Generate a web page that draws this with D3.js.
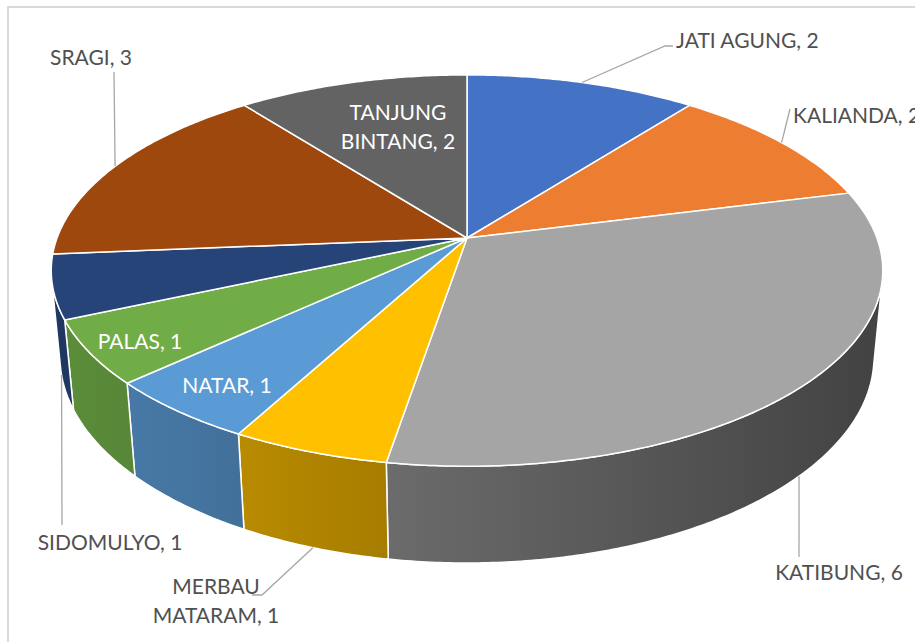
<!DOCTYPE html>
<html>
<head>
<meta charset="utf-8">
<script src="https://cdn.jsdelivr.net/npm/d3@7"></script>
<style>
  body { margin: 0; background: #fff; }
  svg { display: block; }
  text { font-family: Lato, "Noto Sans", sans-serif; font-size: 21px; }
</style>
</head>
<body>
<div id="chart"></div>
<script>
// data
var categories = ["JATI AGUNG", "KALIANDA", "KATIBUNG", "MERBAU MATARAM", "NATAR",
                  "PALAS", "SIDOMULYO", "SRAGI", "TANJUNG BINTANG"];
var values = [2, 2, 6, 1, 1, 1, 1, 3, 2];
var colors = ["#4472c4", "#ed7d31", "#a5a5a5", "#ffc000", "#5b9bd5",
              "#70ad47", "#264478", "#9e480e", "#636363"];

// label placement (layout only)
var labelLayout = [
  { x: 676, y: 48,  anchor: "start",  wrap: false, inside: false, leader: [[665, 46], [673, 46]] },
  { x: 793, y: 123, anchor: "start",  wrap: false, inside: false, leader: [[790, 109]] },
  { x: 839, y: 580, anchor: "middle", wrap: false, inside: false, leader: [[799, 557]] },
  { x: 216, y: 594, anchor: "middle", wrap: true,  inside: false, leader: [[262, 595], [252, 595]] },
  { x: 227, y: 393, anchor: "middle", wrap: false, inside: true },
  { x: 140, y: 349, anchor: "middle", wrap: false, inside: true },
  { x: 110, y: 550, anchor: "middle", wrap: false, inside: false, leader: [[62, 525]] },
  { x: 91,  y: 65,  anchor: "middle", wrap: false, inside: false, leader: [[114, 72]] },
  { x: 398, y: 120, anchor: "middle", wrap: true,  inside: true }
];

var width = 915, height = 642;

// simple perspective camera for the 3d pie
var cam = { cx: 467, cy: 238, f: 2183, D: 5.325, phi: 27.65 * Math.PI / 180, depth: 0.241 };
var sn = Math.sin(cam.phi), cs = Math.cos(cam.phi);

function project(a, r, h) {
  var x = r * Math.sin(a), z = -r * Math.cos(a);
  var dz = cam.D - (h * sn + z * cs);
  var u = h * cs - z * sn;
  return [cam.cx + cam.f * x / dz, cam.cy - cam.f * u / dz];
}

var svg = d3.select("#chart").append("svg")
    .attr("width", width)
    .attr("height", height);

// chart frame
svg.append("rect")
    .attr("x", 8).attr("y", 7)
    .attr("width", 940).attr("height", 660)
    .attr("fill", "none")
    .attr("stroke", "#d9d9d9")
    .attr("stroke-width", 2);

var pie = d3.pie().sort(null).value(function(d) { return d; });
var arcs = pie(values);

var line = d3.line();
function arcPoints(a0, a1, h) {
  var n = Math.max(2, Math.ceil((a1 - a0) / 0.01));
  return d3.range(n + 1).map(function(i) { return project(a0 + (a1 - a0) * i / n, 1, h); });
}

// side shading darkens left to right
var shade = d3.scaleLinear().domain([50, 885]).range([0.82, 0.40]);
var defs = svg.append("defs");
function darker(col, k) {
  var c = d3.rgb(col);
  return d3.rgb(c.r * k, c.g * k, c.b * k).formatHex();
}

// visible part of the outer wall
var zMin = 1 / (cam.D * cs);
var visStart = Math.acos(-zMin), visEnd = 2 * Math.PI - visStart;

var sides = svg.append("g");
arcs.forEach(function(d, i) {
  var a0 = Math.max(d.startAngle, visStart), a1 = Math.min(d.endAngle, visEnd);
  if (a1 <= a0) return;
  var grad = defs.append("linearGradient")
      .attr("id", "side" + i)
      .attr("gradientUnits", "userSpaceOnUse")
      .attr("x1", 50).attr("x2", 885).attr("y1", 0).attr("y2", 0);
  grad.append("stop").attr("offset", 0).attr("stop-color", darker(colors[i], shade(50)));
  grad.append("stop").attr("offset", 1).attr("stop-color", darker(colors[i], shade(885)));
  var pts = arcPoints(a0, a1, 0).concat(arcPoints(a0, a1, -cam.depth).reverse());
  sides.append("path")
      .attr("d", line(pts) + "Z")
      .attr("fill", "url(#side" + i + ")")
      .attr("stroke", "#fff")
      .attr("stroke-width", 1.5)
      .attr("stroke-linejoin", "round");
});

var tops = svg.append("g");
arcs.forEach(function(d, i) {
  var pts = [project(0, 0, 0)].concat(arcPoints(d.startAngle, d.endAngle, 0));
  tops.append("path")
      .attr("d", line(pts) + "Z")
      .attr("fill", colors[i])
      .attr("stroke", "#fff")
      .attr("stroke-width", 1.5)
      .attr("stroke-linejoin", "round");
});

// data labels with leader lines
var labels = svg.append("g");
arcs.forEach(function(d, i) {
  var L = labelLayout[i];
  var mid = (d.startAngle + d.endAngle) / 2;
  if (L.leader) {
    var front = -Math.cos(mid) > 0;
    var start = project(mid, 1, front ? -cam.depth : 0);
    labels.append("path")
        .attr("d", line([start].concat(L.leader)))
        .attr("fill", "none")
        .attr("stroke", "#a6a6a6")
        .attr("stroke-width", 1.3);
  }
  var txt = categories[i] + ", " + values[i];
  var rows = L.wrap ? [txt.slice(0, txt.indexOf(" ")), txt.slice(txt.indexOf(" ") + 1)] : [txt];
  var t = labels.append("text")
      .attr("text-anchor", L.anchor)
      .attr("fill", L.inside ? "#ffffff" : "#505050");
  rows.forEach(function(r, k) {
    t.append("tspan")
        .attr("x", L.x)
        .attr("y", L.y + k * 29)
        .text(r);
  });
});
</script>
</body>
</html>
